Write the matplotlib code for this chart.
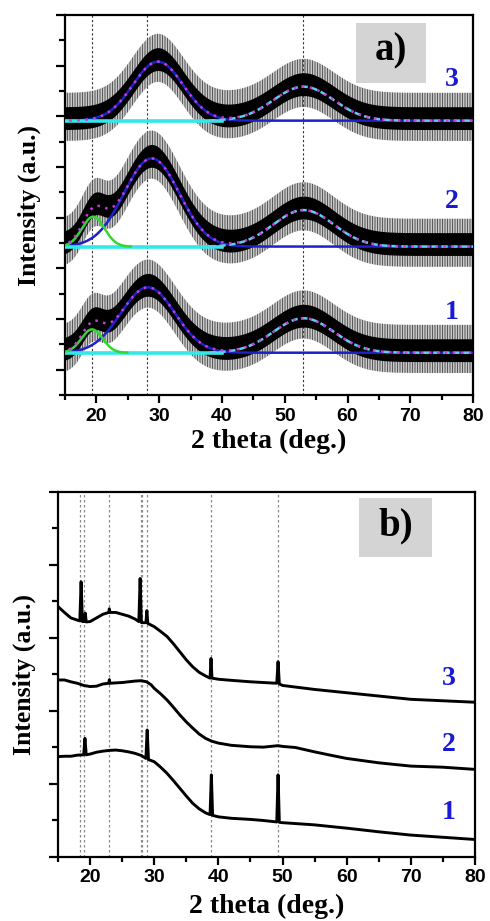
import matplotlib
matplotlib.use("Agg")
import matplotlib.pyplot as plt
from matplotlib.patches import Rectangle
from matplotlib.ticker import MultipleLocator
import numpy as np

# ---- panel a: gaussian fit components ----
patterns_a = ["1", "2", "3"]
baseline_a = [0.67, 4.86, 9.83]
green_center = [19.3, 19.5, 19.5]
green_height = [0.92, 1.18, 0.0]
green_sigma = [1.7, 1.8, 1.8]
blue_center = [28.2, 28.8, 29.8]
blue_height = [2.58, 3.48, 2.33]
blue_sigma = [4.3, 4.4, 4.0]
light_center = [53.0, 53.0, 53.0]
light_height = [1.36, 1.44, 1.34]
light_sigma = [4.8, 4.8, 4.8]
# spread of the measured (noisy) signal around the fit, in y units
noise_dense = (-0.35, 0.55)
noise_spikes = (-0.8, 1.1)
label_y_a = [2.24, 6.62, 11.44]
vlines_a = [19.25, 28.1, 52.95]

# ---- panel b: traces (x in deg, y offset intensity) ----
x_b3 = [15, 16, 17, 18, 18.4, 18.6, 18.8, 19.1, 19.25, 19.4, 20, 21, 22, 22.9, 23.0, 23.1,
        24, 25, 26, 27, 27.6, 27.8, 28.0, 28.7, 28.85, 29.0, 30, 31, 32, 33, 34, 35, 36, 37,
        38, 38.7, 38.85, 39.0, 40, 42, 45, 47, 49.1, 49.3, 49.5, 50, 55, 60, 65, 70, 75, 80]
y_b3 = [6.86, 6.70, 6.55, 6.49, 6.47, 7.54, 6.45, 6.45, 6.68, 6.44, 6.45, 6.55, 6.65, 6.70, 6.80, 6.70,
        6.70, 6.65, 6.60, 6.52, 6.45, 7.63, 6.42, 6.42, 6.75, 6.40, 6.31, 6.18, 6.04, 5.84, 5.62, 5.40, 5.21, 5.06,
        4.96, 4.90, 5.44, 4.90, 4.87, 4.84, 4.80, 4.78, 4.76, 5.35, 4.74, 4.70, 4.59, 4.50, 4.41, 4.32, 4.28, 4.24]
x_b2 = [15, 16, 17, 18, 19, 20, 21, 22, 22.9, 23.0, 23.1, 24, 25, 26, 27, 28, 28.8, 29.5, 30,
        31, 32, 33, 34, 35, 36, 37, 38, 39, 40, 42, 45, 47, 49.3, 50, 52, 55, 58, 60, 65, 70, 75, 80]
y_b2 = [4.85, 4.85, 4.80, 4.76, 4.70, 4.67, 4.68, 4.74, 4.76, 4.86, 4.76, 4.77, 4.78, 4.80, 4.82, 4.83, 4.80, 4.72, 4.62,
        4.47, 4.30, 4.10, 3.89, 3.70, 3.53, 3.37, 3.25, 3.17, 3.12, 3.06, 3.02, 3.01, 3.05, 3.03, 3.00, 2.88, 2.77, 2.70,
        2.58, 2.49, 2.46, 2.40]
x_b1 = [15, 16, 17, 18, 19.0, 19.2, 19.4, 20, 21, 22, 23, 24, 25, 26, 27, 28, 28.7, 28.9, 29.1, 30,
        31, 32, 33, 34, 35, 36, 37, 38, 38.7, 38.9, 39.1, 40, 42, 45, 47, 49.1, 49.3, 49.5, 50, 55, 60,
        65, 70, 75, 80]
y_b1 = [2.75, 2.76, 2.76, 2.79, 2.80, 3.25, 2.80, 2.82, 2.87, 2.90, 2.92, 2.93, 2.91, 2.88, 2.84, 2.78, 2.70, 3.48, 2.67, 2.61,
        2.46, 2.29, 2.09, 1.88, 1.67, 1.47, 1.32, 1.21, 1.16, 2.25, 1.14, 1.10, 1.06, 1.03, 1.00, 0.96, 2.25, 0.95, 0.94, 0.88, 0.79,
        0.69, 0.60, 0.54, 0.48]
label_y_b = [1.23, 3.07, 4.90]
vlines_b = [18.43, 19.1, 23.0, 27.89, 28.15, 28.87, 38.85, 49.35]

SERIF = "Liberation Serif"
SANS = "Liberation Sans"
NUM_BLUE = "#1a1ad6"

plt.rcParams["hatch.linewidth"] = 0.7


def gauss(x, c, h, s):
    return h * np.exp(-((x - c) ** 2) / (2 * s ** 2))


def style_axis(ax, ylim, ymajor, xlabelpad, ylabelpad):
    ax.set_xlim(15, 80)
    ax.set_ylim(*ylim)
    ax.xaxis.set_major_locator(MultipleLocator(10))
    ax.xaxis.set_minor_locator(MultipleLocator(5))
    ax.yaxis.set_major_locator(MultipleLocator(ymajor))
    ax.yaxis.set_minor_locator(MultipleLocator(ymajor / 2))
    ax.set_yticklabels([])
    ax.tick_params(which="major", direction="out", length=6, width=1.6, pad=3)
    ax.tick_params(which="minor", direction="out", length=3.5, width=1.6)
    ax.tick_params(axis="y", which="major", length=6.5)
    ax.tick_params(axis="y", which="minor", length=4)
    for lab in ax.get_xticklabels():
        lab.set_fontfamily(SANS)
        lab.set_fontweight("bold")
        lab.set_fontsize(14)
    for sp in ax.spines.values():
        sp.set_linewidth(1.6)
    ax.set_xlabel("2 theta (deg.)", fontfamily=SERIF, fontweight="bold", fontsize=20,
                  labelpad=xlabelpad)
    ax.set_ylabel("Intensity (a.u.)", fontfamily=SERIF, fontweight="bold", fontsize=18.5,
                  labelpad=ylabelpad)


def tag_box(ax, x0, x1, y0, y1, text):
    ax.add_patch(Rectangle((x0, y0), x1 - x0, y1 - y0, transform=ax.transAxes,
                           facecolor="#d4d4d4", edgecolor="none", zorder=5))
    ax.text((x0 + x1) / 2, (y0 + y1) / 2 + 0.005, text, transform=ax.transAxes, ha="center",
            va="center", fontfamily=SERIF, fontweight="bold", fontsize=28, zorder=6)


fig = plt.figure(figsize=(4.9, 9.21), dpi=100)

# ---------------- panel a ----------------
ax1 = fig.add_axes([0.1327, 0.5711, 0.8327, 0.4126])
x = np.linspace(15, 80, 1301)
for v in vlines_a:
    ax1.axvline(v, color="#333333", linestyle=(0, (2, 2)), linewidth=0.8, zorder=1)

for i in range(len(patterns_a)):
    b = baseline_a[i]
    g = gauss(x, green_center[i], green_height[i], green_sigma[i])
    bl = gauss(x, blue_center[i], blue_height[i], blue_sigma[i])
    lt = gauss(x, light_center[i], light_height[i], light_sigma[i])
    fit = b + g + bl + lt

    ax1.fill_between(x, fit + noise_spikes[0], fit + noise_spikes[1], facecolor="none",
                     edgecolor="#555555", hatch="|" * 10, linewidth=0, zorder=2)
    ax1.fill_between(x, fit + noise_dense[0], fit + noise_dense[1], color="black",
                     linewidth=0, zorder=2)

    ax1.plot(x, b + bl, color="#1c22c8", linewidth=1.8, zorder=3)
    left = x <= 40
    ax1.plot(x[left], np.full(left.sum(), b), color="#33e8e8", linewidth=2.6, zorder=3)
    if green_height[i] > 0:
        gm = np.where(g > 0.004 * green_height[i], b + g, np.nan)
        ax1.plot(x, gm, color="#33d633", linewidth=1.8, zorder=4)
    right = x >= 38
    ax1.plot(x[right], (b + lt)[right], color="#5ccff0", linewidth=1.8,
             linestyle=(0, (2.5, 1.5)), zorder=4)
    ax1.plot(x, fit, color="#c83cd8", linewidth=1.8, linestyle=(1.5, (1, 2.2)), zorder=5)

    ax1.text(76.6, label_y_a[i], patterns_a[i], color=NUM_BLUE, fontfamily=SERIF,
             fontweight="bold", fontsize=20, ha="center", va="center", zorder=6)

style_axis(ax1, (-1, 14), 2, 3, 8)
tag_box(ax1, 0.713, 0.885, 0.821, 0.979, "a)")

# ---------------- panel b ----------------
ax2 = fig.add_axes([0.1184, 0.0695, 0.851, 0.3963])
for v in vlines_b:
    ax2.axvline(v, color="#8a8a8a", linestyle=(0, (2, 2)), linewidth=0.9, zorder=1)

traces_b = [(x_b1, y_b1), (x_b2, y_b2), (x_b3, y_b3)]
for (xs, ys), lab, ly in zip(traces_b, patterns_a, label_y_b):
    ax2.plot(xs, ys, color="black", linewidth=2.1, zorder=3)
    ax2.text(75.95, ly, lab, color=NUM_BLUE, fontfamily=SERIF, fontweight="bold",
             fontsize=20, ha="center", va="center", zorder=6)

style_axis(ax2, (0, 10), 2, 5, 6)
tag_box(ax2, 0.722, 0.897, 0.822, 0.984, "b)")

fig.savefig("out.png", dpi=100)
